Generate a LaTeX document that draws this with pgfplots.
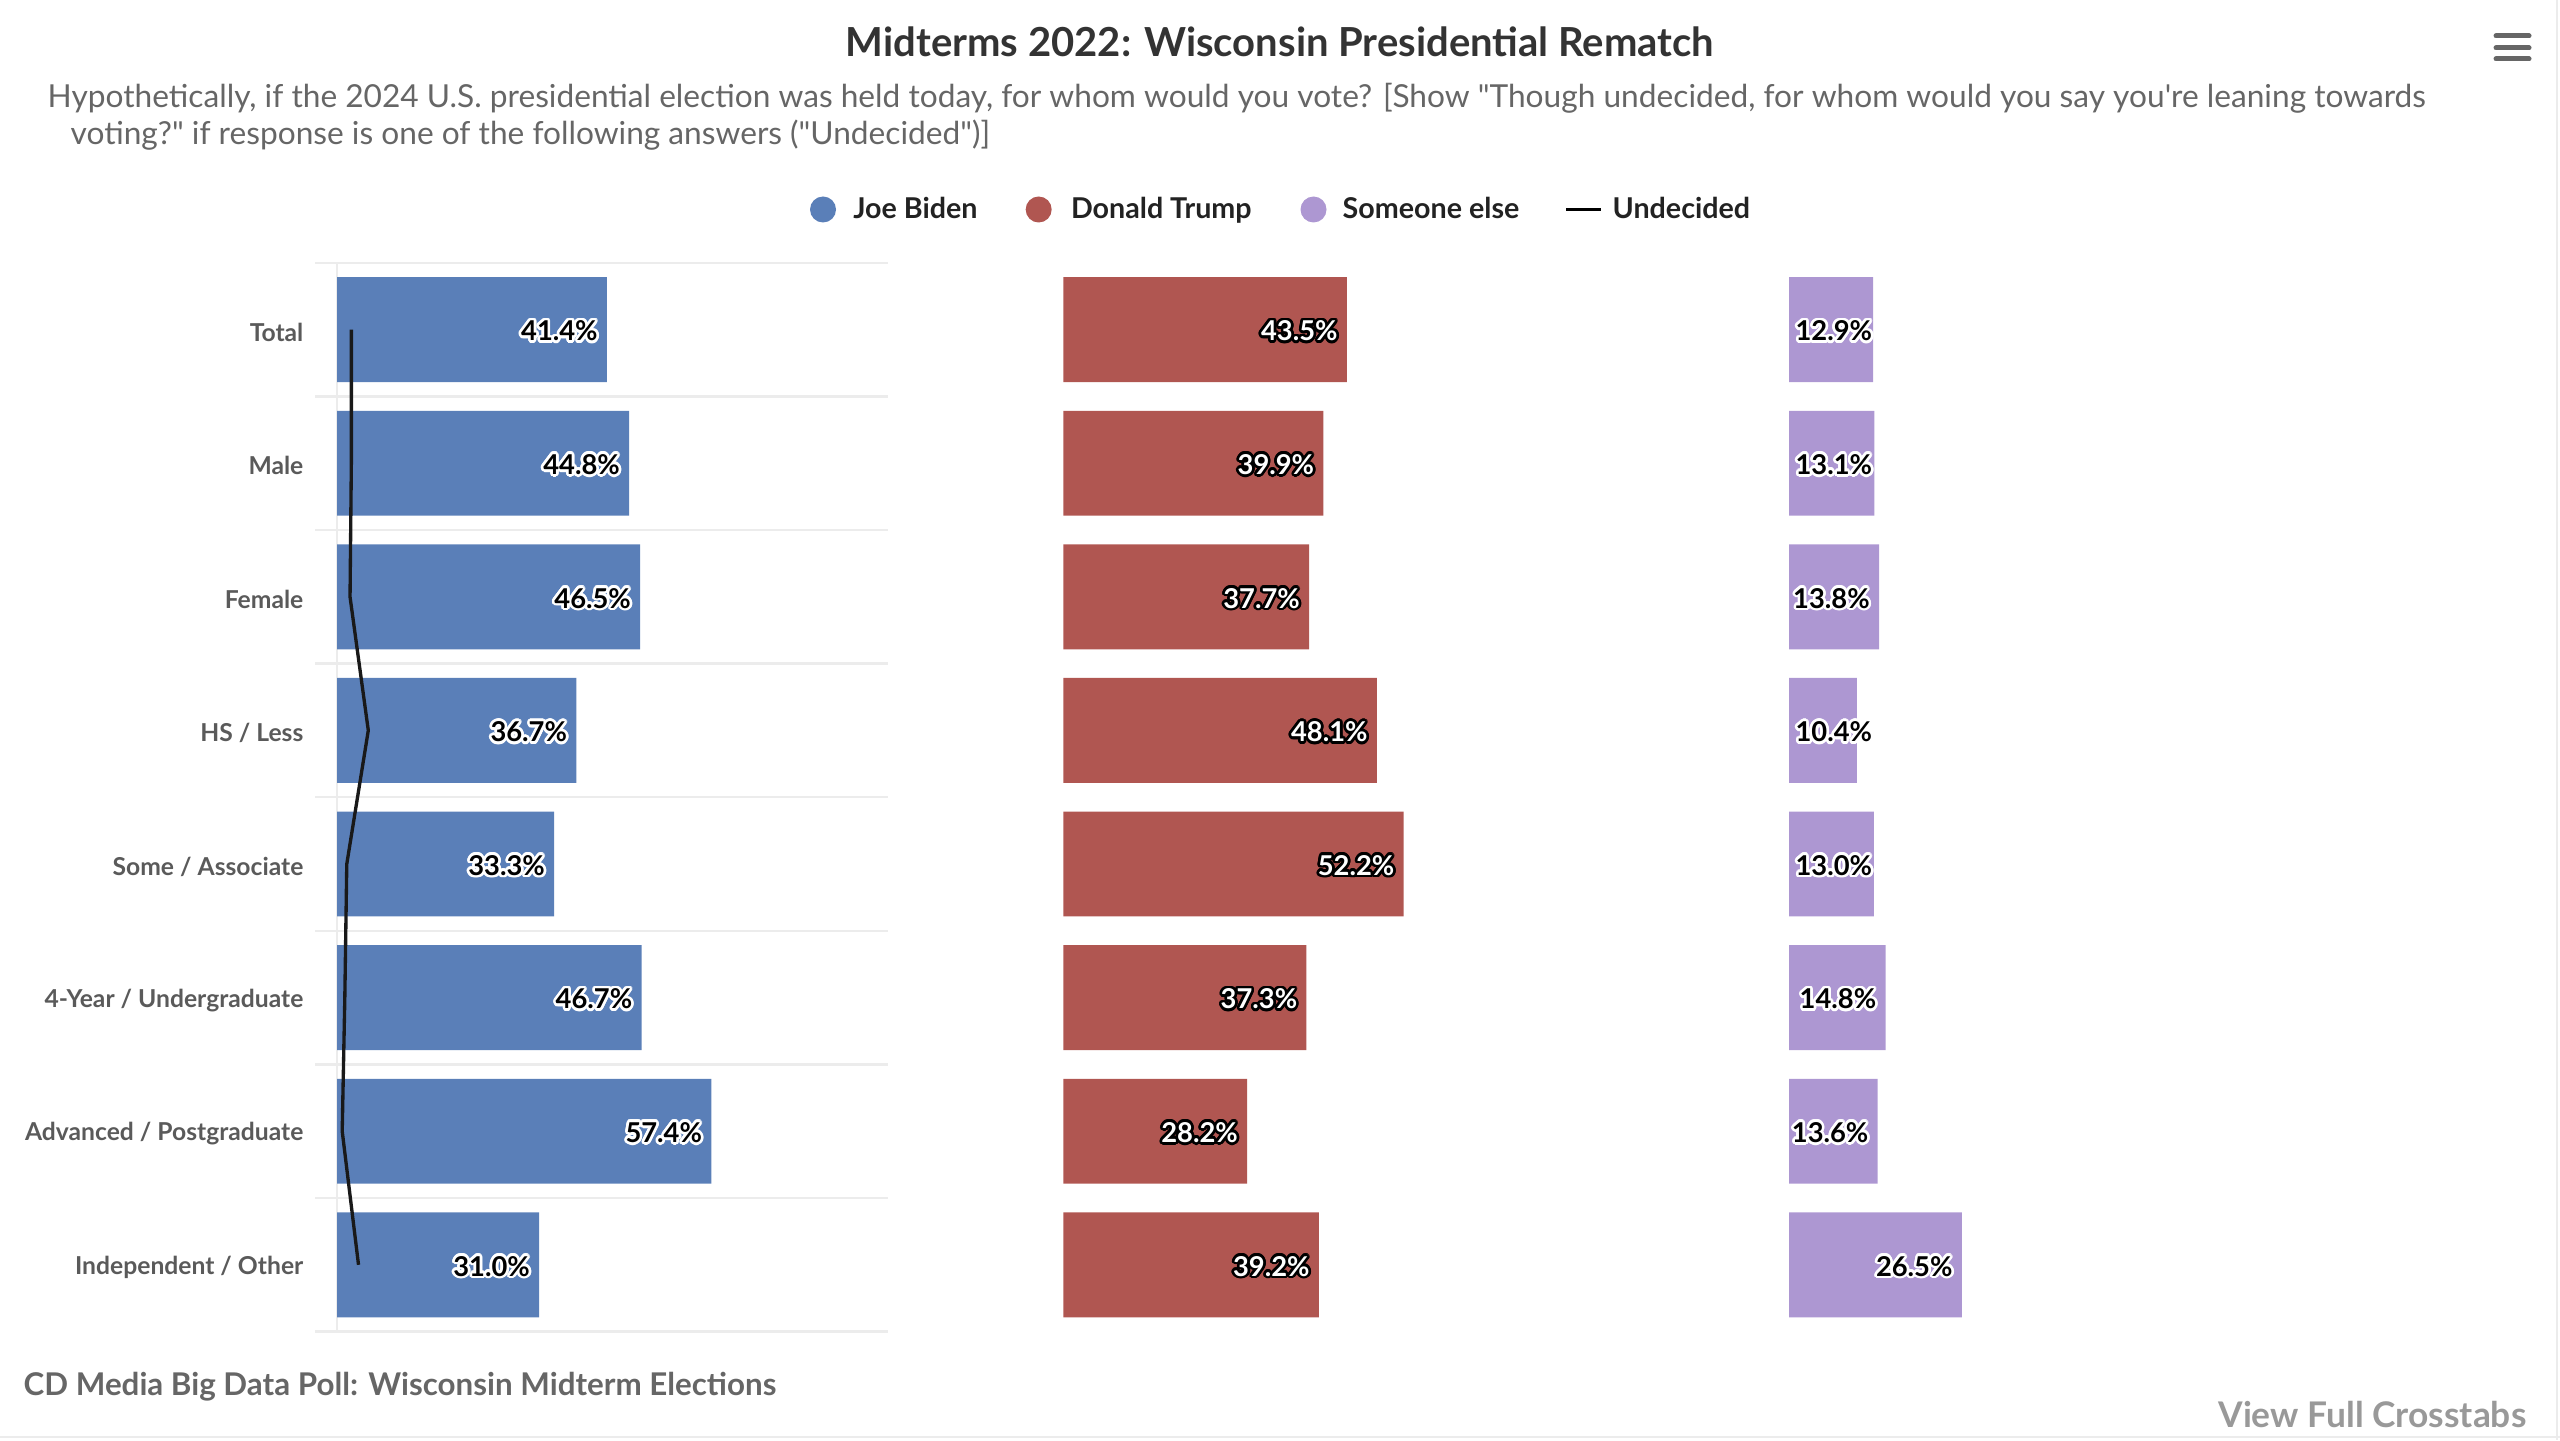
\documentclass[border=0pt]{standalone}
\usepackage{fontspec}
\setmainfont{Lato}[Ligatures=TeXOff]
\usepackage{pgfplots}
\pgfplotsset{compat=1.18}
\usepackage{contour}
\contourlength{0.8pt}
\definecolor{biden}{RGB}{90,127,184}
\definecolor{trump}{RGB}{176,86,81}
\definecolor{other}{RGB}{173,151,210}
\definecolor{gridc}{RGB}{236,236,236}
\definecolor{labc}{RGB}{90,90,90}
\definecolor{titc}{RGB}{51,51,51}
\definecolor{legc}{RGB}{34,34,34}
\definecolor{subc}{RGB}{102,102,102}
\definecolor{footc}{RGB}{153,153,153}
\newcommand{\lblfont}{\bfseries\fontsize{8.2}{9}\selectfont}
\begin{document}
\begin{tikzpicture}
\path[use as bounding box] (0,0) rectangle (768pt,432pt);
% frame lines
\draw[gridc, line width=0.6pt] (767.1pt,0) -- (767.1pt,432pt);
\draw[gridc, line width=0.6pt] (0,0.9pt) -- (768pt,0.9pt);
% title, subtitle
\node[anchor=base, inner sep=0pt, text=titc, font=\bfseries\fontsize{12}{14}\selectfont] at (384pt,415pt) {Midterms 2022: Wisconsin Presidential Rematch};
\node[anchor=base west, inner sep=0pt, text=subc, font=\fontsize{9.5}{11}\selectfont] at (14.1pt,399.6pt) {Hypothetically, if the 2024 U.S. presidential election was held today, for whom would you vote? [Show "Though undecided, for whom would you say you're leaning towards};
\node[anchor=base west, inner sep=0pt, text=subc, font=\fontsize{9.5}{11}\selectfont] at (21pt,388.5pt) {voting?" if response is one of the following answers ("Undecided")]};
% hamburger
\foreach \yy in {421.2,417.6,414.3} \draw[subc, line width=1.5pt, line cap=round] (748.8pt,\yy pt) -- (758.7pt,\yy pt);
% legend
\fill[biden] (246.9pt,369.15pt) circle (3.9pt);
\node[anchor=base west, inner sep=0pt, text=legc, font=\bfseries\fontsize{8.6}{10}\selectfont] at (255.8pt,366.3pt) {Joe Biden};
\fill[trump] (311.6pt,369.15pt) circle (3.9pt);
\node[anchor=base west, inner sep=0pt, text=legc, font=\bfseries\fontsize{8.6}{10}\selectfont] at (321.1pt,366.3pt) {Donald Trump};
\fill[other] (394.05pt,369.15pt) circle (3.9pt);
\node[anchor=base west, inner sep=0pt, text=legc, font=\bfseries\fontsize{8.6}{10}\selectfont] at (402.6pt,366.3pt) {Someone else};
\draw[black, line width=1pt] (469.8pt,369.15pt) -- (480.2pt,369.15pt);
\node[anchor=base west, inner sep=0pt, text=legc, font=\bfseries\fontsize{8.6}{10}\selectfont] at (483.6pt,366.3pt) {Undecided};
% footer
\node[anchor=base west, inner sep=0pt, text=subc, font=\bfseries\fontsize{9.4}{11}\selectfont] at (6.9pt,13.5pt) {CD Media Big Data Poll: Wisconsin Midterm Elections};
\node[anchor=base east, inner sep=0pt, text=footc, font=\bfseries\fontsize{10.6}{12}\selectfont] at (758.1pt,3.9pt) {View Full Crosstabs};

% Biden panel
\begin{axis}[
  at={(94.5pt,32.52pt)}, anchor=south west,
  scale only axis, width=171.9pt, height=320.64pt,
  xmin=-3.374, xmax=84.5, ymin=-0.5, ymax=7.5, y dir=reverse,
  axis line style={draw=none}, major tick length=0pt,
  xtick={0}, xticklabels={}, xmajorgrids,
  grid style={gridc, line width=0.6pt},
  ytick={0,...,7},
  yticklabels={Total,Male,Female,HS / Less,Some / Associate,4-Year / Undergraduate,Advanced / Postgraduate,Independent / Other},
  extra y ticks={-0.5,0.5,1.5,2.5,3.5,4.5,5.5,6.5,7.5},
  extra y tick labels={},
  extra y tick style={grid=major, grid style={gridc, line width=0.7pt}},
  yticklabel style={font=\bfseries\fontsize{7.4}{8}\selectfont, text=labc, inner sep=0pt, xshift=-3.3pt, yshift=-0.8pt},
  clip=false,
]
\addplot[xbar, bar width=31.47pt, fill=biden, draw=none, point meta=x,
  nodes near coords={\contour{white}{\pgfmathprintnumber[fixed,fixed zerofill,precision=1,assume math mode=true]{\pgfplotspointmeta}\%}},
  every node near coord/.append style={anchor=east, inner sep=0pt, xshift=-2.6pt, yshift=-0.8pt, font=\lblfont, text=black}]
  coordinates {(41.4,0) (44.8,1) (46.5,2) (36.7,3) (33.3,4) (46.7,5) (57.4,6) (31.0,7)};
\addplot[color=black!90, line width=1pt, mark=none]
  coordinates {(2.2,0) (2.2,1) (2.0,2) (4.8,3) (1.5,4) (1.2,5) (0.8,6) (3.3,7)};
\end{axis}

% Trump panel
\begin{axis}[
  at={(318.99pt,32.52pt)}, anchor=south west,
  scale only axis, width=117.36pt, height=320.64pt,
  xmin=0, xmax=60, ymin=-0.5, ymax=7.5, y dir=reverse,
  hide axis, clip=false,
]
\addplot[xbar, bar width=31.47pt, fill=trump, draw=none, point meta=x,
  nodes near coords={\contour{black}{\pgfmathprintnumber[fixed,fixed zerofill,precision=1,assume math mode=true]{\pgfplotspointmeta}\%}},
  every node near coord/.append style={anchor=east, inner sep=0pt, xshift=-2.6pt, yshift=-0.8pt, font=\lblfont, text=white}]
  coordinates {(43.5,0) (39.9,1) (37.7,2) (48.1,3) (52.2,4) (37.3,5) (28.2,6) (39.2,7)};
\end{axis}

% Someone else panel
\begin{axis}[
  at={(536.7pt,32.52pt)}, anchor=south west,
  scale only axis, width=58.68pt, height=320.64pt,
  xmin=0, xmax=30, ymin=-0.5, ymax=7.5, y dir=reverse,
  hide axis, clip=false,
]
\addplot[xbar, bar width=31.47pt, fill=other, draw=none]
  coordinates {(12.9,0) (13.1,1) (13.8,2) (10.4,3) (13.0,4) (14.8,5) (13.6,6) (26.5,7)};
\addplot[draw=none, point meta=explicit symbolic,
  nodes near coords={\contour{white}{\pgfplotspointmeta}},
  every node near coord/.append style={anchor=east, inner sep=0pt, xshift=-2.6pt, yshift=-0.8pt, font=\lblfont, text=black}]
  coordinates {(13.8,2) [13.8\%] (14.8,5) [14.8\%] (13.6,6) [13.6\%] (26.5,7) [26.5\%]};
\addplot[draw=none, point meta=explicit symbolic,
  nodes near coords={\contour{white}{\pgfplotspointmeta}},
  every node near coord/.append style={anchor=west, inner sep=0pt, xshift=0pt, yshift=-0.8pt, font=\lblfont, text=black}]
  coordinates {(0.9,0) [12.9\%] (0.9,1) [13.1\%] (0.9,3) [10.4\%] (0.9,4) [13.0\%]};
\end{axis}
\end{tikzpicture}
\end{document}
